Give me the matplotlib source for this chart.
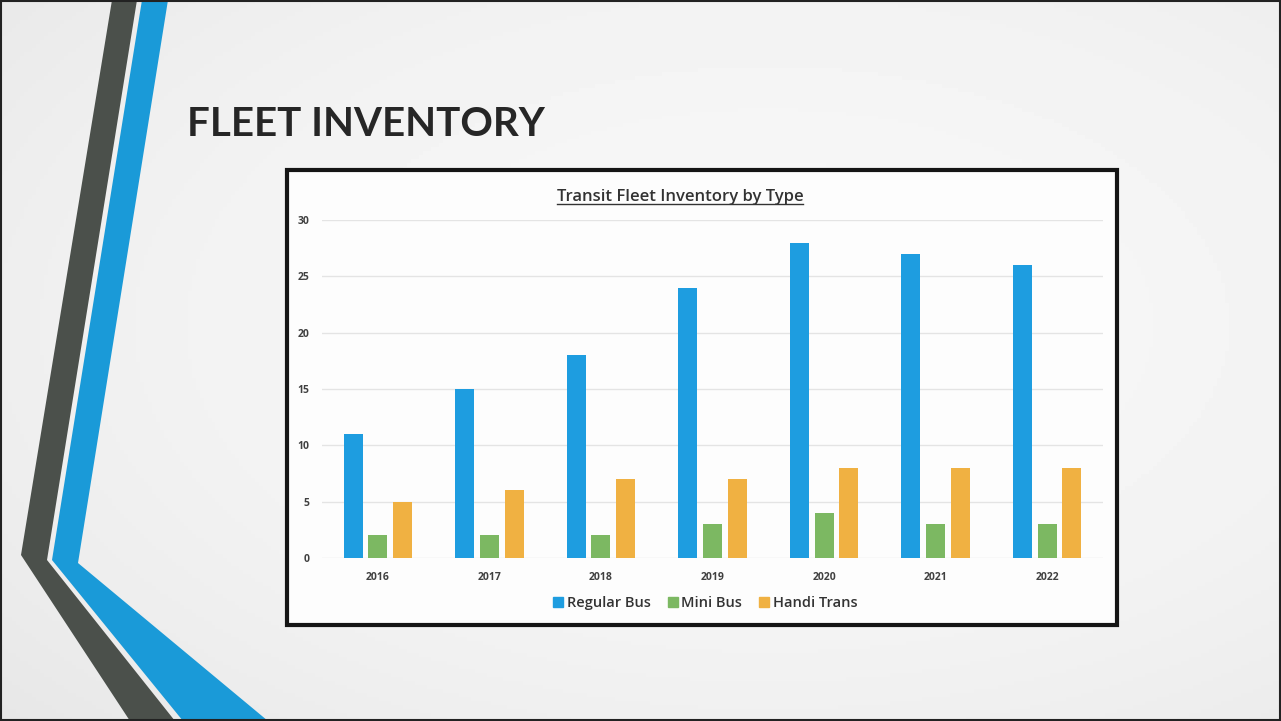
import numpy as np
import matplotlib
matplotlib.use("Agg")
import matplotlib.pyplot as plt
from matplotlib.patches import Polygon, Rectangle
from matplotlib.lines import Line2D

years = ["2016", "2017", "2018", "2019", "2020", "2021", "2022"]
regular_bus = [11, 15, 18, 24, 28, 27, 26]
mini_bus = [2, 2, 2, 3, 4, 3, 3]
handi_trans = [5, 6, 7, 7, 8, 8, 8]
series_names = ["Regular Bus", "Mini Bus", "Handi Trans"]
colors = ["#1e9de0", "#7cb862", "#f0b142"]

W, H = 1281, 721
fig = plt.figure(figsize=(W / 100, H / 100), dpi=100)

# slide background (soft radial shading) + decorative stripes
bg = fig.add_axes([0, 0, 1, 1])
bg.set_xlim(0, W)
bg.set_ylim(H, 0)
bg.axis("off")
yy, xx = np.mgrid[0:H:4, 0:W:4]
r = np.sqrt(((xx - W * 0.6) / W) ** 2 + ((yy - H * 0.45) / H) ** 2)
shade = 0.97 - 0.1 * r ** 2
bg.imshow(shade, cmap="gray", vmin=0, vmax=1, extent=(0, W, H, 0), aspect="auto")

bg.add_patch(Polygon([(112, 0), (137, 0), (47, 560), (175, 721), (130, 721), (21, 555)],
                     closed=True, facecolor="#4b504b", edgecolor="none"))
bg.add_patch(Polygon([(142, 0), (168, 0), (78, 563), (268, 721), (183, 721), (52, 560)],
                     closed=True, facecolor="#1a9ad8", edgecolor="none"))
bg.add_patch(Rectangle((1, 1), W - 2, H - 2, facecolor="none", edgecolor="#222222", lw=1.5))

# chart frame
bg.add_patch(Rectangle((287, 170), 830, 455, facecolor="#fdfdfd", edgecolor="#151515", lw=3, zorder=3))

fig.text(187 / W, 1 - 125 / H, "FLEET INVENTORY", fontsize=29, fontweight="bold",
         family="Lato", color="#262626", va="center", ha="left")

# bar chart
ax = fig.add_axes([322 / W, 1 - 558 / H, (1103 - 322) / W, (558 - 220) / H])
ax.set_facecolor("none")
x = np.arange(len(years))
width = 0.17
step = 0.222
for i, (vals, name, c) in enumerate(zip([regular_bus, mini_bus, handi_trans], series_names, colors)):
    ax.bar(x + (i - 1) * step, vals, width=width, color=c, label=name, zorder=3)

ax.set_xlim(-0.5, len(years) - 0.5)
ax.set_ylim(0, 30)
ax.set_yticks(range(0, 31, 5))
ax.set_xticks(x)
ax.set_xticklabels(years)
ax.grid(axis="y", color="#e4e4e4", lw=1, zorder=0)
for s in ax.spines.values():
    s.set_visible(False)
ax.tick_params(axis="both", length=0, labelsize=7.5, labelcolor="#404040")
ax.tick_params(axis="y", pad=9)
ax.tick_params(axis="x", pad=10)
for lbl in ax.get_yticklabels() + ax.get_xticklabels():
    lbl.set_fontweight("bold")
    lbl.set_family("Open Sans")

# chart title with underline
title = fig.text(680 / W, 1 - 197 / H, "Transit Fleet Inventory by Type", fontsize=12,
                 family="Open Sans", fontweight="semibold", color="#333333", ha="center", va="center")
fig.canvas.draw()
bb = title.get_window_extent(renderer=fig.canvas.get_renderer()).transformed(fig.transFigure.inverted())
fig.add_artist(Line2D([bb.x0, bb.x1], [bb.y0 + 0.001, bb.y0 + 0.001], color="#333333", lw=1,
                      transform=fig.transFigure))

handles = [Line2D([], [], marker="s", linestyle="none", markersize=7, color=c) for c in colors]
leg = fig.legend(handles, series_names, loc="center", bbox_to_anchor=(705 / W, 1 - 603 / H),
                 ncol=3, frameon=False, handletextpad=0.2, columnspacing=1.1, handlelength=0.8,
                 prop={"family": "Open Sans", "size": 10.5, "weight": "semibold"})
for t in leg.get_texts():
    t.set_color("#333333")

fig.savefig("out.png", dpi=100)
